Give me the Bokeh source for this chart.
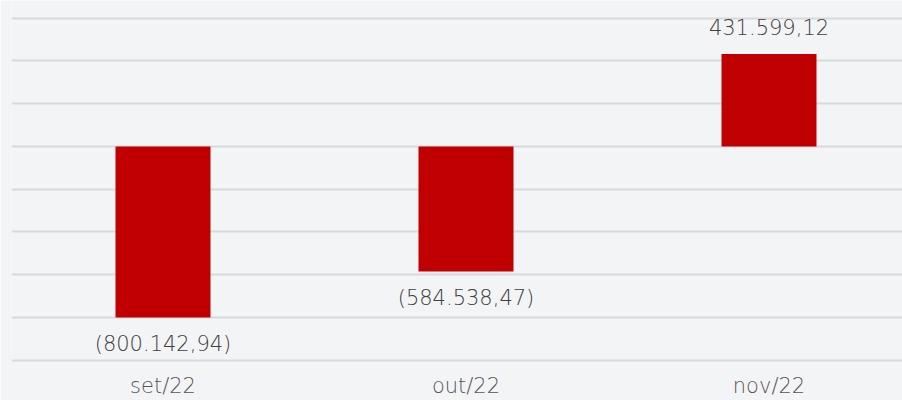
from bokeh.plotting import figure
from bokeh.models import ColumnDataSource, FixedTicker
from bokeh.core.properties import value
from bokeh.embed import file_html
from bokeh.resources import INLINE

# ---- data ----
categories = ["set/22", "out/22", "nov/22"]
values = [-800142.94, -584538.47, 431599.12]
grid_ticks = [-1000000, -800000, -600000, -400000, -200000, 0, 200000, 400000, 600000]


def fmt_br(v):
    s = f"{abs(v):,.2f}".replace(",", "X").replace(".", ",").replace("X", ".")
    return f"({s})" if v < 0 else s


xs = list(range(len(categories)))
labels = [fmt_br(v) for v in values]
pos_idx = [i for i, v in enumerate(values) if v >= 0]
neg_idx = [i for i, v in enumerate(values) if v < 0]

BG = "#f3f4f6"
BAR = "#c00000"
TXT = "#404040"
FONT = "DejaVu Sans Light, DejaVu Sans"

# frame geometry (pixels)
W, H = 902, 400
LEFT = 11
FRAME_BOTTOM = 368
ZERO_PX = 146.3
PX_PER_M = 214.4
CAT_PX = 303.0

x_start = -0.5
x_end = x_start + (W - LEFT) / CAT_PX
y_end = ZERO_PX / PX_PER_M * 1e6
y_start = -(FRAME_BOTTOM - ZERO_PX) / PX_PER_M * 1e6

p = figure(width=W, height=H, x_range=(x_start, x_end), y_range=(y_start, y_end),
           output_backend="svg", toolbar_location=None,
           min_border_left=LEFT, min_border_right=0, min_border_top=0, min_border_bottom=0)
p.background_fill_color = BG
p.border_fill_color = BG
p.outline_line_color = None

# watermark (decorative logo letters), drawn first; anchor kept inside the frame
wm_src = ColumnDataSource(dict(x=[0.0], y=[0.0], t=["me"]))
p.text(x="x", y="y", text="t", source=wm_src, text_font=value("Lato"),
       text_font_style="bold", text_font_size="690px", text_color="#ebe9df",
       text_baseline="alphabetic", x_offset=-152, y_offset=340)

# horizontal gridlines drawn over the watermark
p.hspan(y=grid_ticks, line_color="#d8d9db", line_width=2)

src = ColumnDataSource(dict(x=xs, top=values, label=labels))
p.vbar(x="x", top="top", bottom=0, width=95 / CAT_PX, source=src,
       fill_color=BAR, line_color=None)

pos_src = ColumnDataSource(dict(x=[xs[i] for i in pos_idx], y=[values[i] for i in pos_idx],
                                t=[labels[i] for i in pos_idx]))
neg_src = ColumnDataSource(dict(x=[xs[i] for i in neg_idx], y=[values[i] for i in neg_idx],
                                t=[labels[i] for i in neg_idx]))
p.text(x="x", y="y", text="t", source=pos_src, y_offset=-27, text_align="center",
       text_baseline="middle", text_font=value(FONT), text_font_size="21px", text_color=TXT)
p.text(x="x", y="y", text="t", source=neg_src, y_offset=27, text_align="center",
       text_baseline="middle", text_font=value(FONT), text_font_size="21px", text_color=TXT)

p.yaxis.visible = False
p.ygrid.visible = False
p.xgrid.visible = False

ax = p.xaxis[0]
ax.ticker = FixedTicker(ticks=xs)
ax.major_label_overrides = {i: c for i, c in enumerate(categories)}
ax.axis_line_color = None
ax.major_tick_line_color = None
ax.minor_tick_line_color = None
ax.major_tick_out = 0
ax.major_tick_in = 0
ax.major_label_standoff = 6
ax.major_label_text_font = FONT
ax.major_label_text_font_size = "21px"
ax.major_label_text_color = "#555555"

open("out.html", "w").write(file_html(p, INLINE))
